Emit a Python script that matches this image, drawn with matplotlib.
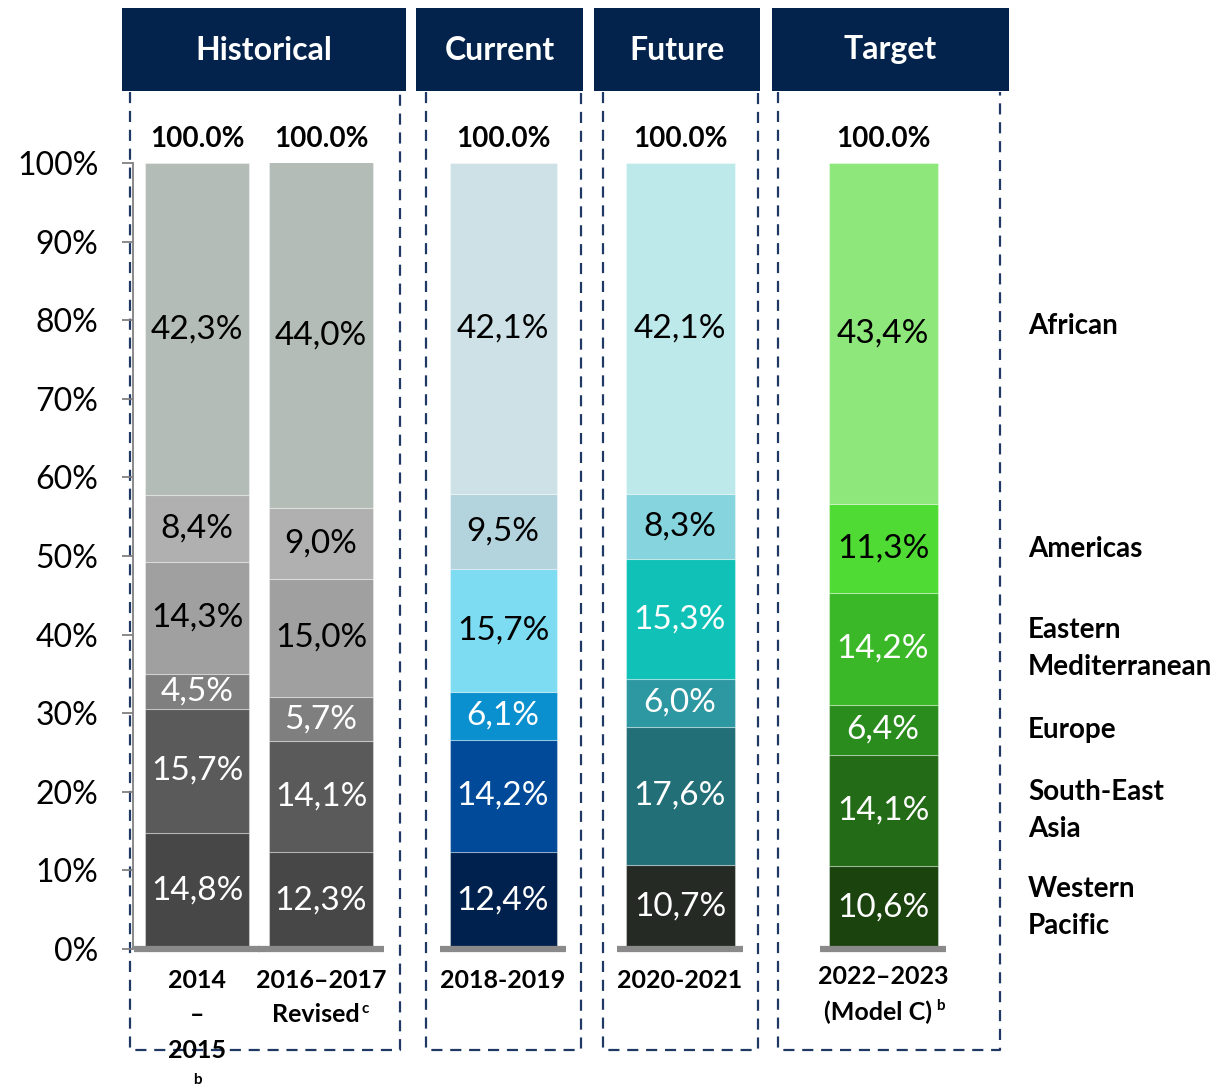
import numpy as np
import matplotlib
matplotlib.use('Agg')
import matplotlib.pyplot as plt
import matplotlib.patches as patches

plt.rcParams['font.family'] = ['Lato', 'DejaVu Sans']

# ── data ──────────────────────────────────────────────
regions = ["Western\nPacific", "South-East\nAsia", "Europe",
           "Eastern\nMediterranean", "Americas", "African"]
periods = ["2014-2015", "2016-2017 Revised", "2018-2019",
           "2020-2021", "2022-2023 (Model C)"]
shares = [
    [14.8, 15.7, 4.5, 14.3, 8.4, 42.3],
    [12.3, 14.1, 5.7, 15.0, 9.0, 44.0],
    [12.4, 14.2, 6.1, 15.7, 9.5, 42.1],
    [10.7, 17.6, 6.0, 15.3, 8.3, 42.1],
    [10.6, 14.1, 6.4, 14.2, 11.3, 43.4],
]
totals = ["100.0%"] * 5
groups = ["Historical", "Current", "Future", "Target"]

# ── layout (pixel units) ─────────────────────────────
W, H = 1227, 1088
bar_x = [197, 321, 503, 680, 883]
bar_w = [104, 104, 107, 109, 109]
palettes = [
    ['#474747', '#5a5a5a', '#7f7f7f', '#a0a0a0', '#b0b0b0', '#b3bcb6'],
    ['#474747', '#5a5a5a', '#7f7f7f', '#a0a0a0', '#b0b0b0', '#b3bcb6'],
    ['#00214d', '#004a99', '#0a8fcf', '#7ddcf2', '#b4d4dd', '#cde1e7'],
    ['#262a25', '#236f77', '#2e98a2', '#0fc1b7', '#86d4dd', '#bde9eb'],
    ['#1a430e', '#236b16', '#2b8c1e', '#3bb828', '#4fdb33', '#8ee77a'],
]
header_boxes = [(122, 406), (416, 583), (594, 760), (772, 1009)]
dash_boxes = [(130, 400), (426, 581), (603, 758), (778, 1000)]
NAVY = '#03234c'
DASH = '#1f3864'

fig = plt.figure(figsize=(W / 100, H / 100), dpi=100)

# overlay in pixel coordinates for frames / headers
ov = fig.add_axes([0, 0, 1, 1])
ov.set_xlim(0, W)
ov.set_ylim(H, 0)
ov.axis('off')

for (x0, x1), name in zip(header_boxes, groups):
    ov.add_patch(patches.Rectangle((x0, 8), x1 - x0, 83,
                                   facecolor=NAVY, edgecolor='none'))
    ov.text((x0 + x1) / 2, 50, name, color='white', fontsize=23,
            fontweight='bold', ha='center', va='center')

for x0, x1 in dash_boxes:
    ov.plot([x0, x0, x1, x1], [92, 1050, 1050, 92], color=DASH,
            lw=1.6, ls=(0, (5, 3.5)))

# main chart axes: x in pixels, y in percent
ax = fig.add_axes([133 / W, 1 - 949 / H, (W - 133) / W, 786 / H])
ax.patch.set_alpha(0)
ax.set_xlim(133, W)
ax.set_ylim(0, 100)

for i, vals in enumerate(shares):
    bottom = 0.0
    for j, v in enumerate(vals):
        c = palettes[i][j]
        ax.bar(bar_x[i], v, bottom=bottom, width=bar_w[i], color=c,
               edgecolor=(1, 1, 1, 0.35), linewidth=0.8, zorder=3)
        r, g, b = matplotlib.colors.to_rgb(c)
        lum = 0.299 * r + 0.587 * g + 0.114 * b
        tc = 'white' if lum < 0.59 else 'black'
        ax.text(bar_x[i], bottom + v / 2, f"{v:.1f}%".replace('.', ','),
                ha='center', va='center', fontsize=24, color=tc, zorder=4)
        bottom += v
    ax.text(bar_x[i], bottom + 3.0, totals[i], ha='center', va='center',
            fontsize=20, fontweight='bold', zorder=4)
    ax.plot([bar_x[i] - 63, bar_x[i] + 63], [0, 0], color='#8a8a8a',
            lw=4.5, solid_capstyle='butt', clip_on=False, zorder=5)

# region labels next to the target bar
cum = np.cumsum([0] + shares[-1])
for j, name in enumerate(regions):
    yc = (cum[j] + cum[j + 1]) / 2
    if j == len(regions) - 1:
        yc += 1.0
    ax.text(1028, yc, name, ha='left', va='center', fontsize=20,
            fontweight='bold', linespacing=1.5, clip_on=False)

ax.set_yticks(range(0, 101, 10))
ax.set_yticklabels([f"{t}%" for t in range(0, 101, 10)], fontsize=23)
ax.tick_params(axis='y', length=8, width=1.3, color='#808080', pad=17)
ax.set_xticks([])
for s in ['top', 'right', 'bottom']:
    ax.spines[s].set_visible(False)
ax.spines['left'].set_color('#808080')
ax.spines['left'].set_linewidth(1.3)

# category labels under the bars
kw = dict(ha='center', va='center', fontsize=18, fontweight='bold')
ov.text(bar_x[0], 980, "2014", **kw)
ov.text(bar_x[0], 1015, "–", **kw)
ov.text(bar_x[0], 1051, "2015", **kw)
ov.text(bar_x[0], 1080, "b", ha='center', va='center', fontsize=11,
        fontweight='bold')
ov.text(bar_x[1], 980, "2016–2017", **kw)
ov.text(bar_x[1] - 5, 1015, "Revised", **kw)
ov.text(bar_x[1] + 44, 1009, "c", ha='center', va='center', fontsize=11,
        fontweight='bold')
ov.text(bar_x[2], 980, "2018-2019", **kw)
ov.text(bar_x[3], 980, "2020-2021", **kw)
ov.text(bar_x[4], 977, "2022–2023", **kw)
ov.text(bar_x[4] - 5, 1012, "(Model C)", **kw)
ov.text(bar_x[4] + 57, 1006, "b", ha='center', va='center', fontsize=11,
        fontweight='bold')

fig.savefig('out.png', dpi=100)
